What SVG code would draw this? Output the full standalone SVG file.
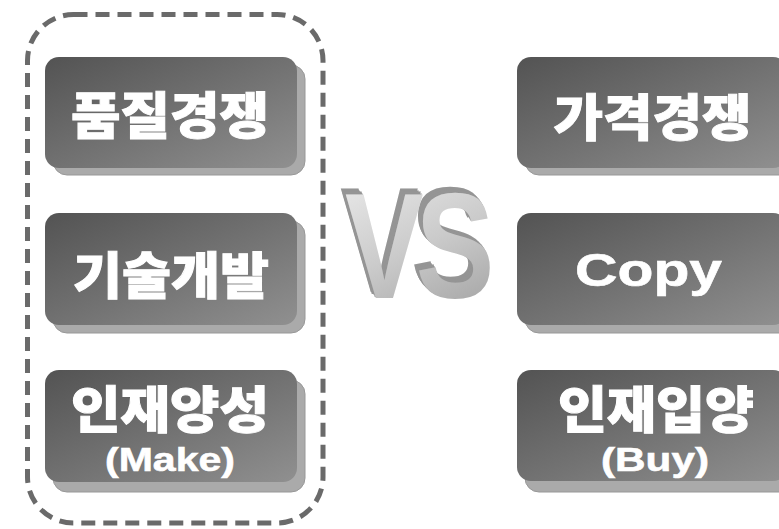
<svg xmlns="http://www.w3.org/2000/svg" width="779" height="529" viewBox="0 0 779 529">
  <defs>
    <linearGradient id="boxG" x1="0" y1="0" x2="1" y2="1">
      <stop offset="0" stop-color="#535353"/>
      <stop offset="0.55" stop-color="#747474"/>
      <stop offset="1" stop-color="#909090"/>
    </linearGradient>
    <linearGradient id="vsG" x1="0" y1="0" x2="0.4" y2="1">
      <stop offset="0" stop-color="#eeeeee"/>
      <stop offset="0.6" stop-color="#cbcbcb"/>
      <stop offset="1" stop-color="#acacac"/>
    </linearGradient>
    <filter id="ext" x="-20%" y="-20%" width="140%" height="140%">
      <feFlood flood-color="#959595" result="f"/>
      <feComposite in="f" in2="SourceAlpha" operator="in" result="d"/>
      <feOffset in="d" dx="-1.5" dy="-1.5" result="o1"/>
      <feOffset in="d" dx="-3" dy="-3" result="o2"/>
      <feOffset in="d" dx="-4.5" dy="-4.5" result="o3"/>
      <feOffset in="d" dx="-6" dy="-6" result="o4"/>
      <feMerge>
        <feMergeNode in="o4"/>
        <feMergeNode in="o3"/>
        <feMergeNode in="o2"/>
        <feMergeNode in="o1"/>
        <feMergeNode in="SourceGraphic"/>
      </feMerge>
    </filter>
  </defs>
  <style>
    .shadow { fill: #aaaaaa; stroke: #989898; stroke-width: 1; }
    .box { fill: url(#boxG); }
    .ko { font-family: "Noto Sans CJK KR", "Noto Sans", sans-serif; font-weight: 900; font-size: 50px; fill: #ffffff; stroke: #ffffff; stroke-width: 1; text-anchor: middle; }
    .en { font-family: "Liberation Sans", Arial, sans-serif; font-weight: 700; fill: #ffffff; stroke: #ffffff; stroke-width: 0.6; text-anchor: middle; }
    .frame { fill: none; stroke: #6a6a6a; stroke-width: 5; stroke-dasharray: 14 8; }
  </style>
  <rect width="779" height="529" fill="#ffffff"/>

  <g id="connectors"></g>

  <g id="make-group">
    <rect class="frame" x="27.5" y="14.5" width="295.5" height="508.5" rx="46" ry="46"/>
  </g>

  <g id="node-quality">
    <rect class="shadow" x="53" y="65" width="252" height="110" rx="14"/>
    <rect class="box" x="45" y="57" width="252" height="111" rx="14"/>
    <text class="ko" x="170" y="134" textLength="198" lengthAdjust="spacingAndGlyphs">품질경쟁</text>
  </g>

  <g id="node-tech">
    <rect class="shadow" x="53" y="221" width="252" height="112" rx="14"/>
    <rect class="box" x="45" y="213" width="252" height="112" rx="14"/>
    <text class="ko" x="171" y="294" textLength="196" lengthAdjust="spacingAndGlyphs">기술개발</text>
  </g>

  <g id="node-talent-make">
    <rect class="shadow" x="53" y="380" width="252" height="112" rx="14"/>
    <rect class="box" x="45" y="370" width="252" height="112" rx="14"/>
    <text class="ko" x="170" y="428" textLength="198" lengthAdjust="spacingAndGlyphs">인재양성</text>
    <text class="en" x="170" y="471" font-size="34" textLength="130" lengthAdjust="spacingAndGlyphs">(Make)</text>
  </g>

  <g id="vs">
    <text transform="translate(345,298) scale(0.78,1)" x="0" y="0" font-family="Liberation Sans, Arial, sans-serif" font-weight="700" font-size="151" letter-spacing="-10" fill="url(#vsG)" filter="url(#ext)">VS</text>
  </g>

  <g id="node-price">
    <rect class="shadow" x="525" y="65" width="270" height="110" rx="14"/>
    <rect class="box" x="517" y="57" width="270" height="111" rx="14"/>
    <text class="ko" x="652.5" y="136" textLength="198" lengthAdjust="spacingAndGlyphs">가격경쟁</text>
  </g>

  <g id="node-copy">
    <rect class="shadow" x="525" y="221" width="270" height="112" rx="14"/>
    <rect class="box" x="517" y="213" width="270" height="112" rx="14"/>
    <text class="en" x="648.5" y="286" font-size="47" textLength="147" lengthAdjust="spacingAndGlyphs">Copy</text>
  </g>

  <g id="node-talent-buy">
    <rect class="shadow" x="525" y="380" width="270" height="112" rx="14"/>
    <rect class="box" x="517" y="370" width="270" height="111" rx="14"/>
    <text class="ko" x="656" y="428" textLength="196" lengthAdjust="spacingAndGlyphs">인재입양</text>
    <text class="en" x="655" y="471" font-size="34" textLength="108" lengthAdjust="spacingAndGlyphs">(Buy)</text>
  </g>
</svg>
